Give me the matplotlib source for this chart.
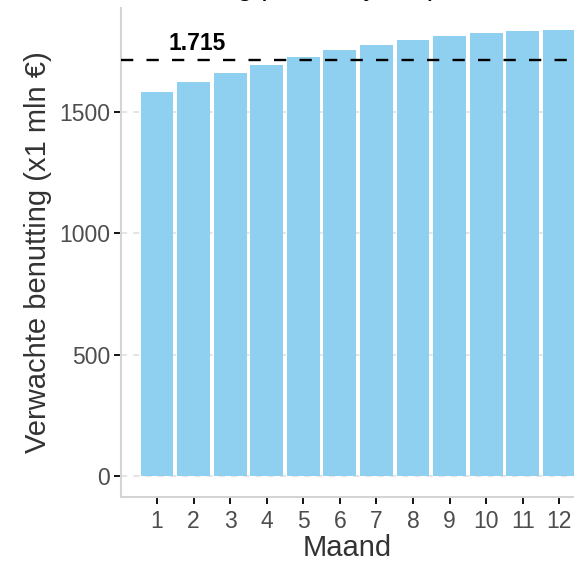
import numpy as np
import matplotlib.pyplot as plt

plt.rcParams['font.family'] = ['Liberation Sans', 'DejaVu Sans']

# data
maand = np.arange(1, 13)
benutting = [1584, 1625, 1662, 1695, 1728, 1753, 1777, 1798, 1814, 1827, 1835, 1839]
gemiddeld = 1715
label_tekst = "1.715"
titel = "Verwachte benutting plafond jaar (x1 mln euro) bij toegang gegeven"

fig = plt.figure(figsize=(5.74, 5.68), dpi=100)
ax = fig.add_axes([121 / 574, 71 / 568, 453 / 574, 489 / 568])

# grid (dashed, light) behind the bars
for yv in [0, 500, 1000, 1500]:
    ax.axhline(yv, color='#dcdcdc', lw=1.1, ls=(0, (4, 4)), zorder=0)

ax.bar(maand, benutting, width=0.9, color='#8fcff0', zorder=2)
ax.axhline(gemiddeld, color='black', lw=1.7, ls=(0, (5.2, 5.6)), zorder=3)
ax.text(2.1, 1755, label_tekst, ha='center', va='baseline',
        fontsize=16.5, fontweight='bold', color='black', zorder=4)

ax.set_xlim(0.014, 12.405)
ax.set_ylim(-86.5, 1928)
ax.set_xticks(maand)
ax.set_yticks([0, 500, 1000, 1500])

for s in ['top', 'right']:
    ax.spines[s].set_visible(False)
for s in ['left', 'bottom']:
    ax.spines[s].set_color('#d4d4d4')
    ax.spines[s].set_linewidth(1.5)

ax.tick_params(axis='both', colors='black', length=5, width=1.3,
               labelsize=16.5, labelcolor='#4d4d4d')
ax.tick_params(axis='y', pad=3)
ax.tick_params(axis='x', pad=4)

ax.set_xlabel("Maand", fontsize=21, color='#333333', labelpad=1)
ax.set_ylabel("Verwachte benutting (x1 mln €)", fontsize=21, color='#333333', labelpad=5)

# title sits mostly above the cropped top edge
fig.text(-0.02, 1.008, titel, ha='left', va='baseline', fontsize=21, color='black')

fig.savefig("out.png", dpi=100)
